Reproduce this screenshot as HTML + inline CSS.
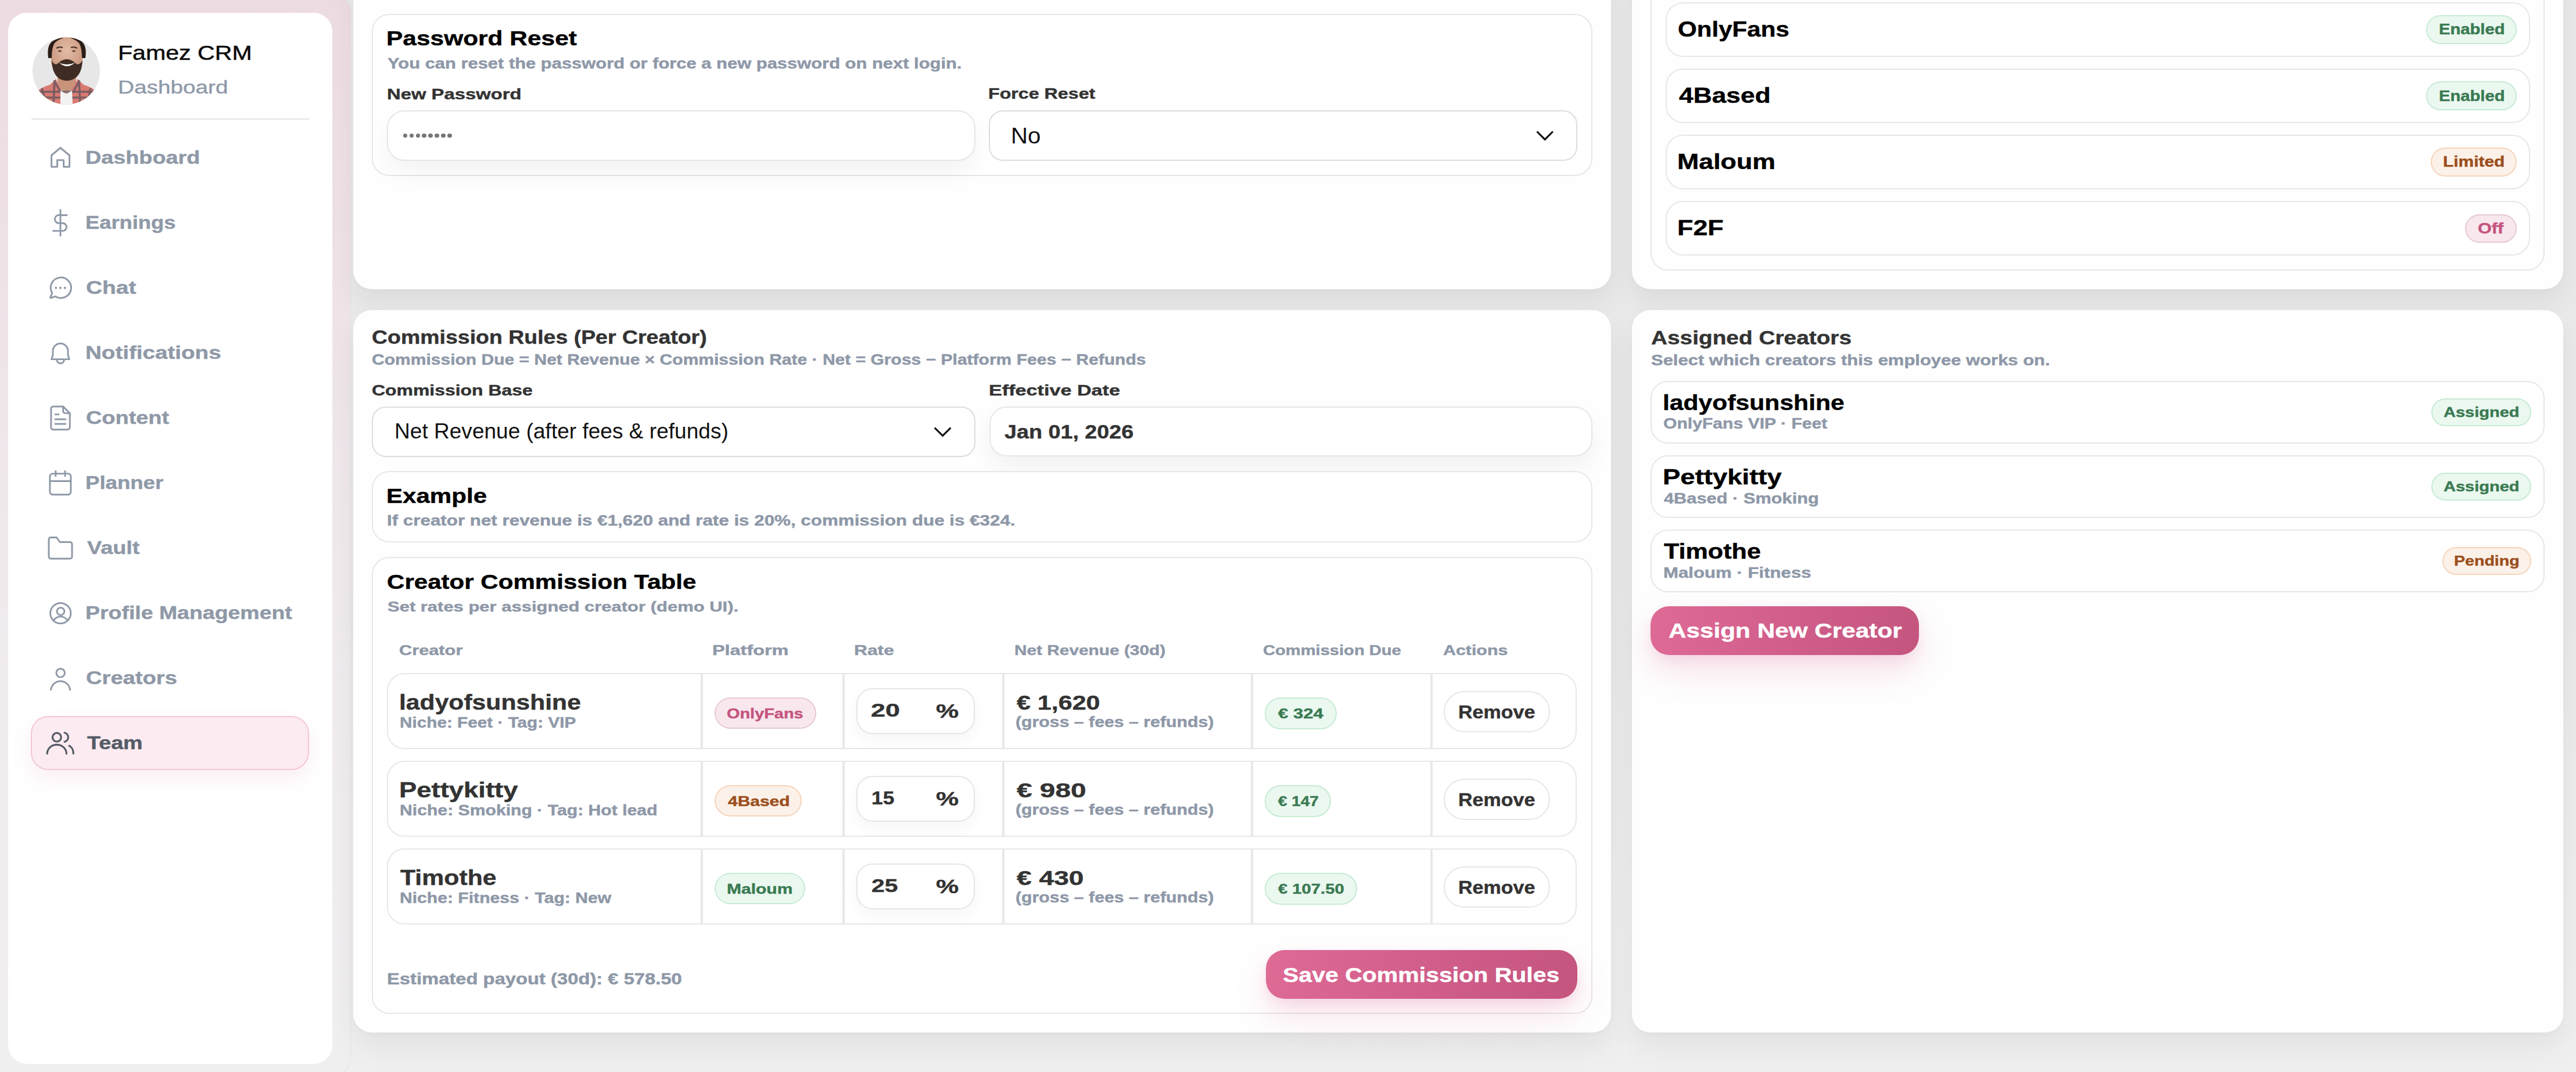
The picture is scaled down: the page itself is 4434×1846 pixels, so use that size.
<!DOCTYPE html>
<html><head><meta charset="utf-8"><title>Famez CRM</title>
<style>
html,body{margin:0;padding:0;width:4434px;height:1846px;overflow:hidden;background:#ebebeb;font-family:"Liberation Sans",sans-serif;}
</style></head><body>
<div style="position:absolute;left:0;top:0;width:4434px;height:1846px;overflow:hidden;background:linear-gradient(180deg,#e9e9e9 0%,#e9e9e9 55%,#efefef 100%);">
<div style="position:absolute;left:0;top:-12px;width:604px;height:1866px;box-sizing:border-box;border-right:1.5px solid #e3dfe1;border-bottom:1.5px solid #e3dfe1;border-radius:0 32px 32px 0;background:linear-gradient(180deg,#eddbe2 0%,#eee2e7 25%,#efe9ec 50%,#f0edef 75%,#f0eff0 100%);"></div>
<div style="position:absolute;left:14.0px;top:22.0px;width:558.0px;height:1810.0px;box-sizing:border-box;background:#fff;border-radius:32px;"></div>
<svg style="position:absolute;left:56px;top:63.6px" width="116" height="116" viewBox="0 0 116 116">
<defs><clipPath id="av"><circle cx="58" cy="58" r="58"/></clipPath>
<radialGradient id="sk" cx="0.5" cy="0.35" r="0.6"><stop offset="0" stop-color="#e4bca6"/><stop offset="1" stop-color="#c9957c"/></radialGradient></defs>
<g clip-path="url(#av)">
<rect width="116" height="116" fill="#e6e7e6"/>
<path d="M43 58 L43 86 L58 96 L75 86 L75 58 Z" fill="#c8937b"/>
<path d="M0 116 L4 98 Q10 88 30 82 L40 72 L50 92 L58 97 L66 92 L78 72 L88 82 Q108 88 112 98 L116 116 Z" fill="#d97a72"/>
<path d="M16 88 L24 116 M38 74 L36 116 M80 74 L82 116 M100 88 L94 116 M6 104 L112 104 M12 94 L106 94 M39 78 L49 96 M79 78 L69 96" stroke="#3c4a5a" stroke-width="3.6" opacity="0.6" fill="none"/>
<path d="M48 92 L58 98 L68 92 L69 116 L48 116 Z" fill="#f3f3f3"/>
<path d="M32 24 Q32 0 58 0 Q86 0 86 24 L86 42 Q84 62 58 68 Q34 62 32 42 Z" fill="url(#sk)"/>
<path d="M27 36 Q24 12 36 6 Q46 1 54 1 Q44 4 38 10 Q33 18 33 36 Z M91 36 Q94 14 84 7 Q74 1 64 1 Q74 4 80 10 Q85 18 85 36 Z" fill="#2b1d17"/>
<path d="M33 40 Q34 66 49 73 Q59 77 69 73 Q85 66 86 40 Q80 50 74 45 Q67 38 59 38 Q51 38 44 45 Q38 50 33 40 Z" fill="#3f2c24"/>
<path d="M46 44 Q59 56 73 44 Q66 47 59 47 Q52 47 46 44 Z" fill="#fbfbfa"/>
<path d="M41 19 Q46 16 52 18 M66 18 Q72 16 77 19" stroke="#4a3328" stroke-width="2.2" fill="none"/>
<ellipse cx="47" cy="24" rx="3" ry="1.4" fill="#5a4034"/><ellipse cx="71" cy="24" rx="3" ry="1.4" fill="#5a4034"/>

</g></svg>
<div style="position:absolute;left:203.14px;top:74.06px;font:400 34.78px/1 'Liberation Sans',sans-serif;color:#0a0a0a;white-space:nowrap;transform-origin:0 0;transform:scaleX(1.1825);-webkit-text-stroke:0.5px #0a0a0a;">Famez CRM</div>
<div style="position:absolute;left:203.07px;top:134.91px;font:400 31.88px/1 'Liberation Sans',sans-serif;color:#8e99a8;white-space:nowrap;transform-origin:0 0;transform:scaleX(1.2154);-webkit-text-stroke:0.4px #8e99a8;">Dashboard</div>
<div style="position:absolute;left:54.0px;top:204.0px;width:478.0px;height:2.0px;box-sizing:border-box;background:#e4e4e7;"></div>
<div style="position:absolute;left:53.3px;top:1233.0px;width:479.1px;height:93.0px;box-sizing:border-box;background:#fcebf0;border:2px solid #f3c7d5;border-radius:30px;box-shadow:0 14px 34px rgba(225,120,160,0.13);"></div>
<div style="position:absolute;left:147.11px;top:256.06px;font:700 31.59px/1 'Liberation Sans',sans-serif;color:#8f99a7;white-space:nowrap;transform-origin:0 0;transform:scaleX(1.1958);-webkit-text-stroke:0.45px #8f99a7;">Dashboard</div>
<div style="position:absolute;left:147.20px;top:368.01px;font:700 31.59px/1 'Liberation Sans',sans-serif;color:#8f99a7;white-space:nowrap;transform-origin:0 0;transform:scaleX(1.1505);-webkit-text-stroke:0.45px #8f99a7;">Earnings</div>
<div style="position:absolute;left:148.27px;top:479.96px;font:700 31.59px/1 'Liberation Sans',sans-serif;color:#8f99a7;white-space:nowrap;transform-origin:0 0;transform:scaleX(1.2303);-webkit-text-stroke:0.45px #8f99a7;">Chat</div>
<div style="position:absolute;left:147.06px;top:591.91px;font:700 31.59px/1 'Liberation Sans',sans-serif;color:#8f99a7;white-space:nowrap;transform-origin:0 0;transform:scaleX(1.2217);-webkit-text-stroke:0.45px #8f99a7;">Notifications</div>
<div style="position:absolute;left:148.30px;top:703.86px;font:700 31.59px/1 'Liberation Sans',sans-serif;color:#8f99a7;white-space:nowrap;transform-origin:0 0;transform:scaleX(1.2000);-webkit-text-stroke:0.45px #8f99a7;">Content</div>
<div style="position:absolute;left:147.18px;top:815.81px;font:700 31.59px/1 'Liberation Sans',sans-serif;color:#8f99a7;white-space:nowrap;transform-origin:0 0;transform:scaleX(1.1582);-webkit-text-stroke:0.45px #8f99a7;">Planner</div>
<div style="position:absolute;left:149.50px;top:927.76px;font:700 31.59px/1 'Liberation Sans',sans-serif;color:#8f99a7;white-space:nowrap;transform-origin:0 0;transform:scaleX(1.1982);-webkit-text-stroke:0.45px #8f99a7;">Vault</div>
<div style="position:absolute;left:147.13px;top:1039.71px;font:700 31.59px/1 'Liberation Sans',sans-serif;color:#8f99a7;white-space:nowrap;transform-origin:0 0;transform:scaleX(1.1858);-webkit-text-stroke:0.45px #8f99a7;">Profile Management</div>
<div style="position:absolute;left:148.29px;top:1151.66px;font:700 31.59px/1 'Liberation Sans',sans-serif;color:#8f99a7;white-space:nowrap;transform-origin:0 0;transform:scaleX(1.2080);-webkit-text-stroke:0.45px #8f99a7;">Creators</div>
<div style="position:absolute;left:149.50px;top:1263.61px;font:700 31.59px/1 'Liberation Sans',sans-serif;color:#545b66;white-space:nowrap;transform-origin:0 0;transform:scaleX(1.1926);-webkit-text-stroke:0.45px #545b66;">Team</div>
<svg style="position:absolute;left:0;top:0;overflow:visible" width="1" height="1">
<g fill="none" stroke="#8f99a7" stroke-width="2.95" stroke-linecap="round" stroke-linejoin="round">
<path d="M88.6 287.3 V267.5 L104 254.5 L119.6 267.5 V287.3 H109.6 V275.8 H98.6 V287.3 Z"/>
<path d="M115 370.5 H100.5 A6.9 6.9 0 0 0 100.5 384.2 H107.8 A6.7 6.7 0 0 1 107.8 397.6 H91.5 M104 361.5 V406"/>
<path d="M95.5 510.4 A17.6 17.6 0 1 0 89.8 504.6 L86.8 511.8 Q86.3 513.4 88 512.8 Z"/>
<path d="M88.6 618.6 H119.4 L117 611.5 V604.5 A13 13 0 0 0 91 604.5 V611.5 Z M97.8 619.5 A6.3 6.3 0 0 0 110.4 619.5"/>
<path d="M108.6 700 H91.5 A3.6 3.6 0 0 0 87.9 703.6 V736.2 A3.6 3.6 0 0 0 91.5 739.8 H116.6 A3.6 3.6 0 0 0 120.2 736.2 V711.6 Z M108.6 700 V708 A3.6 3.6 0 0 0 112.2 711.6 H120.2 M95 713.6 H101 M95 722 H113 M95 730 H113"/>
<rect x="85.9" y="815.6" width="36" height="36.2" rx="5"/>
<path d="M85.9 828.4 H121.9 M95.8 811.2 V819.8 M112 811.2 V819.8"/>
<path d="M84 929 A3.5 3.5 0 0 1 87.5 925.5 H97.5 L103 933.5 H120.5 A3.5 3.5 0 0 1 124 937 V958.5 A3.5 3.5 0 0 1 120.5 962 H87.5 A3.5 3.5 0 0 1 84 958.5 Z"/>
<circle cx="104.2" cy="1056" r="17.6"/>
<circle cx="104.4" cy="1052.8" r="6.4"/>
<path d="M92.2 1068.6 Q97 1061.6 104.3 1061.6 Q111.6 1061.6 116.4 1068.6"/>
<circle cx="104.2" cy="1158.8" r="7.3"/>
<path d="M87.6 1187.9 A16.6 16.8 0 0 1 120.6 1187.9"/>
</g>
<g fill="none" stroke="#545b66" stroke-width="3.2" stroke-linecap="round" stroke-linejoin="round">
<circle cx="97.8" cy="1269.6" r="7.4"/>
<path d="M81.2 1297.8 A16.6 15.4 0 0 1 114.4 1297.8 M111.2 1261.8 A8 8 0 0 1 111.2 1277.4 M119.2 1284.2 A11 13.8 0 0 1 126.2 1297.8"/>
</g>
<g fill="#8f99a7" stroke="none"><circle cx="96.2" cy="495.8" r="2"/><circle cx="104" cy="495.8" r="2"/><circle cx="111.8" cy="495.8" r="2"/></g>
</svg>
<div style="position:absolute;left:608.0px;top:-60.0px;width:2165.0px;height:558.0px;box-sizing:border-box;background:#fefefe;border-radius:32px;box-shadow:0 24px 48px rgba(0,0,0,0.055),0 4px 10px rgba(0,0,0,0.02);"></div>
<div style="position:absolute;left:2809.0px;top:-60.0px;width:1603.0px;height:558.0px;box-sizing:border-box;background:#fefefe;border-radius:32px;box-shadow:0 24px 48px rgba(0,0,0,0.055),0 4px 10px rgba(0,0,0,0.02);"></div>
<div style="position:absolute;left:608.0px;top:534.0px;width:2165.0px;height:1243.5px;box-sizing:border-box;background:#fefefe;border-radius:32px;box-shadow:0 24px 48px rgba(0,0,0,0.055),0 4px 10px rgba(0,0,0,0.02);"></div>
<div style="position:absolute;left:2809.0px;top:534.0px;width:1603.0px;height:1243.5px;box-sizing:border-box;background:#fefefe;border-radius:32px;box-shadow:0 24px 48px rgba(0,0,0,0.055),0 4px 10px rgba(0,0,0,0.02);"></div>
<div style="position:absolute;left:640.0px;top:24.0px;width:2101.0px;height:279.0px;box-sizing:border-box;border:2px solid #e7e7e9;border-radius:30px;background:#fff;"></div>
<div style="position:absolute;left:664.56px;top:49.06px;font:700 34.78px/1 'Liberation Sans',sans-serif;color:#000;white-space:nowrap;transform-origin:0 0;transform:scaleX(1.2209);-webkit-text-stroke:0.45px #000;">Password Reset</div>
<div style="position:absolute;left:667.00px;top:97.46px;font:700 25.80px/1 'Liberation Sans',sans-serif;color:#8e98a8;white-space:nowrap;transform-origin:0 0;transform:scaleX(1.1978);-webkit-text-stroke:0.45px #8e98a8;">You can reset the password or force a new password on next login.</div>
<div style="position:absolute;left:665.76px;top:149.17px;font:700 26.38px/1 'Liberation Sans',sans-serif;color:#333333;white-space:nowrap;transform-origin:0 0;transform:scaleX(1.2442);-webkit-text-stroke:0.45px #333333;">New Password</div>
<div style="position:absolute;left:1701.18px;top:148.17px;font:700 26.38px/1 'Liberation Sans',sans-serif;color:#333333;white-space:nowrap;transform-origin:0 0;transform:scaleX(1.2203);-webkit-text-stroke:0.45px #333333;">Force Reset</div>
<div style="position:absolute;left:665.5px;top:189.7px;width:1013.2px;height:87.5px;box-sizing:border-box;background:#fff;border:2px solid #e6e6e8;border-radius:30px;box-shadow:0 20px 44px rgba(0,0,0,0.05);"></div>
<div style="position:absolute;left:693.7px;top:229.5px;width:7.8px;height:7.8px;box-sizing:border-box;background:#767676;border-radius:50%;"></div>
<div style="position:absolute;left:704.6px;top:229.5px;width:7.8px;height:7.8px;box-sizing:border-box;background:#767676;border-radius:50%;"></div>
<div style="position:absolute;left:715.5px;top:229.5px;width:7.8px;height:7.8px;box-sizing:border-box;background:#767676;border-radius:50%;"></div>
<div style="position:absolute;left:726.4px;top:229.5px;width:7.8px;height:7.8px;box-sizing:border-box;background:#767676;border-radius:50%;"></div>
<div style="position:absolute;left:737.3px;top:229.5px;width:7.8px;height:7.8px;box-sizing:border-box;background:#767676;border-radius:50%;"></div>
<div style="position:absolute;left:748.2px;top:229.5px;width:7.8px;height:7.8px;box-sizing:border-box;background:#767676;border-radius:50%;"></div>
<div style="position:absolute;left:759.1px;top:229.5px;width:7.8px;height:7.8px;box-sizing:border-box;background:#767676;border-radius:50%;"></div>
<div style="position:absolute;left:770.0px;top:229.5px;width:7.8px;height:7.8px;box-sizing:border-box;background:#767676;border-radius:50%;"></div>
<div style="position:absolute;left:1702.4px;top:189.6px;width:1013.1px;height:87.7px;box-sizing:border-box;background:#fff;border:2px solid #dcdde3;border-radius:24px;"></div>
<div style="position:absolute;left:1739.88px;top:215.14px;font:400 38.70px/1 'Liberation Sans',sans-serif;color:#111;white-space:nowrap;transform-origin:0 0;transform:scaleX(1.0392);">No</div>
<svg style="position:absolute;left:0;top:0;overflow:visible" width="1" height="1"><path d="M2645.5 226.5 L2659.2 240.2 L2672.9 226.5" fill="none" stroke="#111" stroke-width="3.1"/></svg>
<div style="position:absolute;left:2840.9px;top:-41.0px;width:1539.5px;height:507.0px;box-sizing:border-box;border:2px solid #e7e7e9;border-radius:30px;"></div>
<div style="position:absolute;left:2867.0px;top:3.8px;width:1487.5px;height:94.0px;box-sizing:border-box;border:2px solid #e7e7e9;border-radius:30px;background:#fff;"></div>
<div style="position:absolute;left:2888.33px;top:33.15px;font:700 36.09px/1 'Liberation Sans',sans-serif;color:#000;white-space:nowrap;transform-origin:0 0;transform:scaleX(1.1674);-webkit-text-stroke:0.45px #000;">OnlyFans</div>
<div style="position:absolute;left:4176.0px;top:26.3px;width:155.8px;height:49.4px;box-sizing:border-box;background:#ebf8f0;border:2px solid #c6ebd3;border-radius:999px;"></div>
<div style="position:absolute;left:4197.64px;top:38.45px;font:700 25.22px/1 'Liberation Sans',sans-serif;color:#3a7a52;white-space:nowrap;transform-origin:0 0;transform:scaleX(1.1569);-webkit-text-stroke:0.45px #3a7a52;">Enabled</div>
<div style="position:absolute;left:2867.0px;top:117.9px;width:1487.5px;height:94.0px;box-sizing:border-box;border:2px solid #e7e7e9;border-radius:30px;background:#fff;"></div>
<div style="position:absolute;left:2889.50px;top:147.25px;font:700 36.09px/1 'Liberation Sans',sans-serif;color:#000;white-space:nowrap;transform-origin:0 0;transform:scaleX(1.2287);-webkit-text-stroke:0.45px #000;">4Based</div>
<div style="position:absolute;left:4176.0px;top:140.4px;width:155.8px;height:49.4px;box-sizing:border-box;background:#ebf8f0;border:2px solid #c6ebd3;border-radius:999px;"></div>
<div style="position:absolute;left:4197.64px;top:152.55px;font:700 25.22px/1 'Liberation Sans',sans-serif;color:#3a7a52;white-space:nowrap;transform-origin:0 0;transform:scaleX(1.1569);-webkit-text-stroke:0.45px #3a7a52;">Enabled</div>
<div style="position:absolute;left:2867.0px;top:231.8px;width:1487.5px;height:94.0px;box-sizing:border-box;border:2px solid #e7e7e9;border-radius:30px;background:#fff;"></div>
<div style="position:absolute;left:2887.02px;top:261.15px;font:700 36.09px/1 'Liberation Sans',sans-serif;color:#000;white-space:nowrap;transform-origin:0 0;transform:scaleX(1.2404);-webkit-text-stroke:0.45px #000;">Maloum</div>
<div style="position:absolute;left:4183.5px;top:254.3px;width:148.3px;height:49.4px;box-sizing:border-box;background:#fcf1e8;border:2px solid #f6d4ba;border-radius:999px;"></div>
<div style="position:absolute;left:4204.81px;top:266.45px;font:700 25.22px/1 'Liberation Sans',sans-serif;color:#9b4f1e;white-space:nowrap;transform-origin:0 0;transform:scaleX(1.1860);-webkit-text-stroke:0.45px #9b4f1e;">Limited</div>
<div style="position:absolute;left:2867.0px;top:346.0px;width:1487.5px;height:94.0px;box-sizing:border-box;border:2px solid #e7e7e9;border-radius:30px;background:#fff;"></div>
<div style="position:absolute;left:2887.01px;top:375.35px;font:700 36.09px/1 'Liberation Sans',sans-serif;color:#000;white-space:nowrap;transform-origin:0 0;transform:scaleX(1.2438);-webkit-text-stroke:0.45px #000;">F2F</div>
<div style="position:absolute;left:4243.3px;top:368.5px;width:88.5px;height:49.4px;box-sizing:border-box;background:#f9e7ee;border:2px solid #e7c8d5;border-radius:999px;"></div>
<div style="position:absolute;left:4264.59px;top:380.65px;font:700 25.22px/1 'Liberation Sans',sans-serif;color:#c4557f;white-space:nowrap;transform-origin:0 0;transform:scaleX(1.2134);-webkit-text-stroke:0.45px #c4557f;">Off</div>
<div style="position:absolute;left:640.18px;top:564.38px;font:700 33.33px/1 'Liberation Sans',sans-serif;color:#333333;white-space:nowrap;transform-origin:0 0;transform:scaleX(1.1241);-webkit-text-stroke:0.45px #333333;">Commission Rules (Per Creator)</div>
<div style="position:absolute;left:640.13px;top:607.29px;font:700 25.65px/1 'Liberation Sans',sans-serif;color:#8e98a8;white-space:nowrap;transform-origin:0 0;transform:scaleX(1.1711);-webkit-text-stroke:0.45px #8e98a8;">Commission Due = Net Revenue × Commission Rate · Net = Gross − Platform Fees − Refunds</div>
<div style="position:absolute;left:640.08px;top:658.92px;font:700 26.09px/1 'Liberation Sans',sans-serif;color:#333333;white-space:nowrap;transform-origin:0 0;transform:scaleX(1.2245);-webkit-text-stroke:0.45px #333333;">Commission Base</div>
<div style="position:absolute;left:1701.59px;top:659.02px;font:700 26.09px/1 'Liberation Sans',sans-serif;color:#333333;white-space:nowrap;transform-origin:0 0;transform:scaleX(1.3102);-webkit-text-stroke:0.45px #333333;">Effective Date</div>
<div style="position:absolute;left:639.6px;top:699.5px;width:1039.4px;height:87.6px;box-sizing:border-box;background:#fff;border:2px solid #dcdde3;border-radius:24px;"></div>
<div style="position:absolute;left:678.78px;top:725.14px;font:400 36.81px/1 'Liberation Sans',sans-serif;color:#111;white-space:nowrap;transform-origin:0 0;transform:scaleX(1.0073);">Net Revenue (after fees &amp; refunds)</div>
<svg style="position:absolute;left:0;top:0;overflow:visible" width="1" height="1"><path d="M1608.8 736.6 L1622.6 750.4 L1636.4 736.6" fill="none" stroke="#111" stroke-width="3.1"/></svg>
<div style="position:absolute;left:1703.4px;top:700.3px;width:1037.2px;height:86.2px;box-sizing:border-box;background:#fff;border:2px solid #e6e6e8;border-radius:30px;box-shadow:0 20px 44px rgba(0,0,0,0.05);"></div>
<div style="position:absolute;left:1729.00px;top:727.97px;font:700 32.75px/1 'Liberation Sans',sans-serif;color:#333333;white-space:nowrap;transform-origin:0 0;transform:scaleX(1.1515);-webkit-text-stroke:0.45px #333333;">Jan 01, 2026</div>
<div style="position:absolute;left:640.0px;top:810.6px;width:2100.6px;height:123.8px;box-sizing:border-box;border:2px solid #e7e7e9;border-radius:30px;background:#fff;"></div>
<div style="position:absolute;left:664.51px;top:836.19px;font:700 35.22px/1 'Liberation Sans',sans-serif;color:#000;white-space:nowrap;transform-origin:0 0;transform:scaleX(1.1948);-webkit-text-stroke:0.45px #000;">Example</div>
<div style="position:absolute;left:665.68px;top:884.29px;font:700 25.65px/1 'Liberation Sans',sans-serif;color:#8e98a8;white-space:nowrap;transform-origin:0 0;transform:scaleX(1.2221);-webkit-text-stroke:0.45px #8e98a8;">If creator net revenue is €1,620 and rate is 20%, commission due is €324.</div>
<div style="position:absolute;left:640.0px;top:959.1px;width:2100.6px;height:786.8px;box-sizing:border-box;border:2px solid #e7e7e9;border-radius:30px;background:#fff;"></div>
<div style="position:absolute;left:665.73px;top:983.58px;font:700 35.94px/1 'Liberation Sans',sans-serif;color:#000;white-space:nowrap;transform-origin:0 0;transform:scaleX(1.1714);-webkit-text-stroke:0.45px #000;">Creator Commission Table</div>
<div style="position:absolute;left:666.90px;top:1033.14px;font:700 24.64px/1 'Liberation Sans',sans-serif;color:#8e98a8;white-space:nowrap;transform-origin:0 0;transform:scaleX(1.2576);-webkit-text-stroke:0.45px #8e98a8;">Set rates per assigned creator (demo UI).</div>
<div style="position:absolute;left:686.80px;top:1108.21px;font:700 24.20px/1 'Liberation Sans',sans-serif;color:#8e98a8;white-space:nowrap;transform-origin:0 0;transform:scaleX(1.2712);-webkit-text-stroke:0.45px #8e98a8;">Creator</div>
<div style="position:absolute;left:1226.26px;top:1108.21px;font:700 24.20px/1 'Liberation Sans',sans-serif;color:#8e98a8;white-space:nowrap;transform-origin:0 0;transform:scaleX(1.3389);-webkit-text-stroke:0.45px #8e98a8;">Platform</div>
<div style="position:absolute;left:1470.29px;top:1108.21px;font:700 24.20px/1 'Liberation Sans',sans-serif;color:#8e98a8;white-space:nowrap;transform-origin:0 0;transform:scaleX(1.3124);-webkit-text-stroke:0.45px #8e98a8;">Rate</div>
<div style="position:absolute;left:1745.77px;top:1108.21px;font:700 24.20px/1 'Liberation Sans',sans-serif;color:#8e98a8;white-space:nowrap;transform-origin:0 0;transform:scaleX(1.2327);-webkit-text-stroke:0.45px #8e98a8;">Net Revenue (30d)</div>
<div style="position:absolute;left:2174.30px;top:1108.21px;font:700 24.20px/1 'Liberation Sans',sans-serif;color:#8e98a8;white-space:nowrap;transform-origin:0 0;transform:scaleX(1.2034);-webkit-text-stroke:0.45px #8e98a8;">Commission Due</div>
<div style="position:absolute;left:2483.60px;top:1108.21px;font:700 24.20px/1 'Liberation Sans',sans-serif;color:#8e98a8;white-space:nowrap;transform-origin:0 0;transform:scaleX(1.2556);-webkit-text-stroke:0.45px #8e98a8;">Actions</div>
<div style="position:absolute;left:665.7px;top:1159.0px;width:2048.8px;height:131.0px;box-sizing:border-box;background:#fff;border:2px solid #e7e7e9;border-radius:30px;"></div>
<div style="position:absolute;left:1206.0px;top:1161.0px;width:4.0px;height:127.0px;box-sizing:border-box;background:#e8e8ea;"></div>
<div style="position:absolute;left:1450.0px;top:1161.0px;width:4.0px;height:127.0px;box-sizing:border-box;background:#e8e8ea;"></div>
<div style="position:absolute;left:1725.0px;top:1161.0px;width:4.0px;height:127.0px;box-sizing:border-box;background:#e8e8ea;"></div>
<div style="position:absolute;left:2153.0px;top:1161.0px;width:4.0px;height:127.0px;box-sizing:border-box;background:#e8e8ea;"></div>
<div style="position:absolute;left:2462.0px;top:1161.0px;width:4.0px;height:127.0px;box-sizing:border-box;background:#e8e8ea;"></div>
<div style="position:absolute;left:686.88px;top:1191.54px;font:700 36.81px/1 'Liberation Sans',sans-serif;color:#333333;white-space:nowrap;transform-origin:0 0;transform:scaleX(1.1592);-webkit-text-stroke:0.45px #333333;">ladyofsunshine</div>
<div style="position:absolute;left:688.01px;top:1231.88px;font:700 25.07px/1 'Liberation Sans',sans-serif;color:#8e98a8;white-space:nowrap;transform-origin:0 0;transform:scaleX(1.1860);-webkit-text-stroke:0.45px #8e98a8;">Niche: Feet · Tag: VIP</div>
<div style="position:absolute;left:1230.0px;top:1201.3px;width:174.5px;height:54.2px;box-sizing:border-box;background:#f9e7ee;border:2px solid #e7c8d5;border-radius:999px;"></div>
<div style="position:absolute;left:1251.31px;top:1216.99px;font:700 24.35px/1 'Liberation Sans',sans-serif;color:#c4557f;white-space:nowrap;transform-origin:0 0;transform:scaleX(1.1866);-webkit-text-stroke:0.45px #c4557f;">OnlyFans</div>
<div style="position:absolute;left:1473.7px;top:1184.7px;width:203.9px;height:78.9px;box-sizing:border-box;background:#fff;border:2px solid #e6e6e8;border-radius:28px;box-shadow:0 10px 26px rgba(0,0,0,0.04);"></div>
<div style="position:absolute;left:1499.44px;top:1209.37px;font:700 30.87px/1 'Liberation Sans',sans-serif;color:#333333;white-space:nowrap;transform-origin:0 0;transform:scaleX(1.4551);-webkit-text-stroke:0.45px #333333;">20</div>
<div style="position:absolute;left:1610.80px;top:1208.60px;font:700 32.61px/1 'Liberation Sans',sans-serif;color:#333333;white-space:nowrap;transform-origin:0 0;transform:scaleX(1.3517);-webkit-text-stroke:0.45px #333333;">%</div>
<div style="position:absolute;left:1749.60px;top:1193.42px;font:700 34.35px/1 'Liberation Sans',sans-serif;color:#333333;white-space:nowrap;transform-origin:0 0;transform:scaleX(1.2526);-webkit-text-stroke:0.45px #333333;">€ 1,620</div>
<div style="position:absolute;left:1748.41px;top:1230.53px;font:700 25.36px/1 'Liberation Sans',sans-serif;color:#8e98a8;white-space:nowrap;transform-origin:0 0;transform:scaleX(1.1931);-webkit-text-stroke:0.45px #8e98a8;">(gross – fees – refunds)</div>
<div style="position:absolute;left:2177.2px;top:1201.4px;width:123.5px;height:54.3px;box-sizing:border-box;background:#ebf8f0;border:2px solid #c6ebd3;border-radius:999px;"></div>
<div style="position:absolute;left:2200.00px;top:1216.64px;font:700 24.64px/1 'Liberation Sans',sans-serif;color:#3a7a52;white-space:nowrap;transform-origin:0 0;transform:scaleX(1.2644);-webkit-text-stroke:0.45px #3a7a52;">€ 324</div>
<div style="position:absolute;left:2485.2px;top:1189.6px;width:183.3px;height:71.0px;box-sizing:border-box;background:#fff;border:2px solid #e6e6e8;border-radius:999px;"></div>
<div style="position:absolute;left:2510.06px;top:1211.44px;font:700 30.43px/1 'Liberation Sans',sans-serif;color:#333333;white-space:nowrap;transform-origin:0 0;transform:scaleX(1.1183);-webkit-text-stroke:0.45px #333333;">Remove</div>
<div style="position:absolute;left:665.7px;top:1310.0px;width:2048.8px;height:131.0px;box-sizing:border-box;background:#fff;border:2px solid #e7e7e9;border-radius:30px;"></div>
<div style="position:absolute;left:1206.0px;top:1312.0px;width:4.0px;height:127.0px;box-sizing:border-box;background:#e8e8ea;"></div>
<div style="position:absolute;left:1450.0px;top:1312.0px;width:4.0px;height:127.0px;box-sizing:border-box;background:#e8e8ea;"></div>
<div style="position:absolute;left:1725.0px;top:1312.0px;width:4.0px;height:127.0px;box-sizing:border-box;background:#e8e8ea;"></div>
<div style="position:absolute;left:2153.0px;top:1312.0px;width:4.0px;height:127.0px;box-sizing:border-box;background:#e8e8ea;"></div>
<div style="position:absolute;left:2462.0px;top:1312.0px;width:4.0px;height:127.0px;box-sizing:border-box;background:#e8e8ea;"></div>
<div style="position:absolute;left:686.73px;top:1342.54px;font:700 36.81px/1 'Liberation Sans',sans-serif;color:#333333;white-space:nowrap;transform-origin:0 0;transform:scaleX(1.2340);-webkit-text-stroke:0.45px #333333;">Pettykitty</div>
<div style="position:absolute;left:688.00px;top:1382.88px;font:700 25.07px/1 'Liberation Sans',sans-serif;color:#8e98a8;white-space:nowrap;transform-origin:0 0;transform:scaleX(1.2036);-webkit-text-stroke:0.45px #8e98a8;">Niche: Smoking · Tag: Hot lead</div>
<div style="position:absolute;left:1230.0px;top:1352.3px;width:150.2px;height:54.2px;box-sizing:border-box;background:#fcf1e8;border:2px solid #f6d4ba;border-radius:999px;"></div>
<div style="position:absolute;left:1252.50px;top:1367.99px;font:700 24.35px/1 'Liberation Sans',sans-serif;color:#9b4f1e;white-space:nowrap;transform-origin:0 0;transform:scaleX(1.2305);-webkit-text-stroke:0.45px #9b4f1e;">4Based</div>
<div style="position:absolute;left:1473.7px;top:1335.7px;width:203.9px;height:78.9px;box-sizing:border-box;background:#fff;border:2px solid #e6e6e8;border-radius:28px;box-shadow:0 10px 26px rgba(0,0,0,0.04);"></div>
<div style="position:absolute;left:1499.75px;top:1360.37px;font:700 30.87px/1 'Liberation Sans',sans-serif;color:#333333;white-space:nowrap;transform-origin:0 0;transform:scaleX(1.1459);-webkit-text-stroke:0.45px #333333;">15</div>
<div style="position:absolute;left:1610.80px;top:1359.60px;font:700 32.61px/1 'Liberation Sans',sans-serif;color:#333333;white-space:nowrap;transform-origin:0 0;transform:scaleX(1.3517);-webkit-text-stroke:0.45px #333333;">%</div>
<div style="position:absolute;left:1749.60px;top:1344.42px;font:700 34.35px/1 'Liberation Sans',sans-serif;color:#333333;white-space:nowrap;transform-origin:0 0;transform:scaleX(1.3913);-webkit-text-stroke:0.45px #333333;">€ 980</div>
<div style="position:absolute;left:1748.41px;top:1381.53px;font:700 25.36px/1 'Liberation Sans',sans-serif;color:#8e98a8;white-space:nowrap;transform-origin:0 0;transform:scaleX(1.1931);-webkit-text-stroke:0.45px #8e98a8;">(gross – fees – refunds)</div>
<div style="position:absolute;left:2177.2px;top:1352.4px;width:114.2px;height:54.3px;box-sizing:border-box;background:#ebf8f0;border:2px solid #c6ebd3;border-radius:999px;"></div>
<div style="position:absolute;left:2200.00px;top:1367.64px;font:700 24.64px/1 'Liberation Sans',sans-serif;color:#3a7a52;white-space:nowrap;transform-origin:0 0;transform:scaleX(1.1325);-webkit-text-stroke:0.45px #3a7a52;">€ 147</div>
<div style="position:absolute;left:2485.2px;top:1340.6px;width:183.3px;height:71.0px;box-sizing:border-box;background:#fff;border:2px solid #e6e6e8;border-radius:999px;"></div>
<div style="position:absolute;left:2510.06px;top:1362.44px;font:700 30.43px/1 'Liberation Sans',sans-serif;color:#333333;white-space:nowrap;transform-origin:0 0;transform:scaleX(1.1183);-webkit-text-stroke:0.45px #333333;">Remove</div>
<div style="position:absolute;left:665.7px;top:1461.0px;width:2048.8px;height:131.0px;box-sizing:border-box;background:#fff;border:2px solid #e7e7e9;border-radius:30px;"></div>
<div style="position:absolute;left:1206.0px;top:1463.0px;width:4.0px;height:127.0px;box-sizing:border-box;background:#e8e8ea;"></div>
<div style="position:absolute;left:1450.0px;top:1463.0px;width:4.0px;height:127.0px;box-sizing:border-box;background:#e8e8ea;"></div>
<div style="position:absolute;left:1725.0px;top:1463.0px;width:4.0px;height:127.0px;box-sizing:border-box;background:#e8e8ea;"></div>
<div style="position:absolute;left:2153.0px;top:1463.0px;width:4.0px;height:127.0px;box-sizing:border-box;background:#e8e8ea;"></div>
<div style="position:absolute;left:2462.0px;top:1463.0px;width:4.0px;height:127.0px;box-sizing:border-box;background:#e8e8ea;"></div>
<div style="position:absolute;left:689.20px;top:1493.54px;font:700 36.81px/1 'Liberation Sans',sans-serif;color:#333333;white-space:nowrap;transform-origin:0 0;transform:scaleX(1.1623);-webkit-text-stroke:0.45px #333333;">Timothe</div>
<div style="position:absolute;left:688.00px;top:1533.88px;font:700 25.07px/1 'Liberation Sans',sans-serif;color:#8e98a8;white-space:nowrap;transform-origin:0 0;transform:scaleX(1.2012);-webkit-text-stroke:0.45px #8e98a8;">Niche: Fitness · Tag: New</div>
<div style="position:absolute;left:1230.0px;top:1503.3px;width:156.0px;height:54.2px;box-sizing:border-box;background:#ebf8f0;border:2px solid #c6ebd3;border-radius:999px;"></div>
<div style="position:absolute;left:1251.27px;top:1518.99px;font:700 24.35px/1 'Liberation Sans',sans-serif;color:#3a7a52;white-space:nowrap;transform-origin:0 0;transform:scaleX(1.2323);-webkit-text-stroke:0.45px #3a7a52;">Maloum</div>
<div style="position:absolute;left:1473.7px;top:1486.7px;width:203.9px;height:78.9px;box-sizing:border-box;background:#fff;border:2px solid #e6e6e8;border-radius:28px;box-shadow:0 10px 26px rgba(0,0,0,0.04);"></div>
<div style="position:absolute;left:1499.57px;top:1511.37px;font:700 30.87px/1 'Liberation Sans',sans-serif;color:#333333;white-space:nowrap;transform-origin:0 0;transform:scaleX(1.3268);-webkit-text-stroke:0.45px #333333;">25</div>
<div style="position:absolute;left:1610.80px;top:1510.60px;font:700 32.61px/1 'Liberation Sans',sans-serif;color:#333333;white-space:nowrap;transform-origin:0 0;transform:scaleX(1.3517);-webkit-text-stroke:0.45px #333333;">%</div>
<div style="position:absolute;left:1749.60px;top:1495.42px;font:700 34.35px/1 'Liberation Sans',sans-serif;color:#333333;white-space:nowrap;transform-origin:0 0;transform:scaleX(1.3441);-webkit-text-stroke:0.45px #333333;">€ 430</div>
<div style="position:absolute;left:1748.41px;top:1532.53px;font:700 25.36px/1 'Liberation Sans',sans-serif;color:#8e98a8;white-space:nowrap;transform-origin:0 0;transform:scaleX(1.1931);-webkit-text-stroke:0.45px #8e98a8;">(gross – fees – refunds)</div>
<div style="position:absolute;left:2177.2px;top:1503.4px;width:158.6px;height:54.3px;box-sizing:border-box;background:#ebf8f0;border:2px solid #c6ebd3;border-radius:999px;"></div>
<div style="position:absolute;left:2200.00px;top:1518.64px;font:700 24.64px/1 'Liberation Sans',sans-serif;color:#3a7a52;white-space:nowrap;transform-origin:0 0;transform:scaleX(1.1854);-webkit-text-stroke:0.45px #3a7a52;">€ 107.50</div>
<div style="position:absolute;left:2485.2px;top:1491.6px;width:183.3px;height:71.0px;box-sizing:border-box;background:#fff;border:2px solid #e6e6e8;border-radius:999px;"></div>
<div style="position:absolute;left:2510.06px;top:1513.44px;font:700 30.43px/1 'Liberation Sans',sans-serif;color:#333333;white-space:nowrap;transform-origin:0 0;transform:scaleX(1.1183);-webkit-text-stroke:0.45px #333333;">Remove</div>
<div style="position:absolute;left:665.58px;top:1672.68px;font:700 26.96px/1 'Liberation Sans',sans-serif;color:#8e98a8;white-space:nowrap;transform-origin:0 0;transform:scaleX(1.2151);-webkit-text-stroke:0.45px #8e98a8;">Estimated payout (30d): € 578.50</div>
<div style="position:absolute;left:2179.3px;top:1636.0px;width:535.4px;height:83.8px;box-sizing:border-box;background:linear-gradient(100deg,#de6a96 0%,#d35f8c 45%,#c4557f 100%);border-radius:32px;box-shadow:0 26px 56px rgba(220,100,150,0.20),0 8px 18px rgba(210,90,140,0.10);"></div>
<div style="position:absolute;left:2208.43px;top:1660.81px;font:700 35.07px/1 'Liberation Sans',sans-serif;color:#fff;white-space:nowrap;transform-origin:0 0;transform:scaleX(1.1697);-webkit-text-stroke:0.45px #fff;">Save Commission Rules</div>
<div style="position:absolute;left:2841.50px;top:564.58px;font:700 33.33px/1 'Liberation Sans',sans-serif;color:#333333;white-space:nowrap;transform-origin:0 0;transform:scaleX(1.1643);-webkit-text-stroke:0.45px #333333;">Assigned Creators</div>
<div style="position:absolute;left:2841.50px;top:607.66px;font:700 25.80px/1 'Liberation Sans',sans-serif;color:#8e98a8;white-space:nowrap;transform-origin:0 0;transform:scaleX(1.2003);-webkit-text-stroke:0.45px #8e98a8;">Select which creators this employee works on.</div>
<div style="position:absolute;left:2840.5px;top:655.7px;width:1539.5px;height:108.5px;box-sizing:border-box;border:2px solid #e7e7e9;border-radius:30px;background:#fff;"></div>
<div style="position:absolute;left:2861.67px;top:675.66px;font:700 36.67px/1 'Liberation Sans',sans-serif;color:#000;white-space:nowrap;transform-origin:0 0;transform:scaleX(1.1634);-webkit-text-stroke:0.45px #000;">ladyofsunshine</div>
<div style="position:absolute;left:2862.83px;top:717.46px;font:700 25.80px/1 'Liberation Sans',sans-serif;color:#8e98a8;white-space:nowrap;transform-origin:0 0;transform:scaleX(1.1677);-webkit-text-stroke:0.45px #8e98a8;">OnlyFans VIP · Feet</div>
<div style="position:absolute;left:4184.7px;top:685.5px;width:172.8px;height:48.9px;box-sizing:border-box;background:#ebf8f0;border:2px solid #c6ebd3;border-radius:999px;"></div>
<div style="position:absolute;left:4206.30px;top:698.39px;font:700 24.35px/1 'Liberation Sans',sans-serif;color:#3a7a52;white-space:nowrap;transform-origin:0 0;transform:scaleX(1.1913);-webkit-text-stroke:0.45px #3a7a52;">Assigned</div>
<div style="position:absolute;left:2840.5px;top:783.8px;width:1539.5px;height:108.5px;box-sizing:border-box;border:2px solid #e7e7e9;border-radius:30px;background:#fff;"></div>
<div style="position:absolute;left:2861.52px;top:803.76px;font:700 36.67px/1 'Liberation Sans',sans-serif;color:#000;white-space:nowrap;transform-origin:0 0;transform:scaleX(1.2407);-webkit-text-stroke:0.45px #000;">Pettykitty</div>
<div style="position:absolute;left:2864.00px;top:845.56px;font:700 25.80px/1 'Liberation Sans',sans-serif;color:#8e98a8;white-space:nowrap;transform-origin:0 0;transform:scaleX(1.1935);-webkit-text-stroke:0.45px #8e98a8;">4Based · Smoking</div>
<div style="position:absolute;left:4184.7px;top:813.6px;width:172.8px;height:48.9px;box-sizing:border-box;background:#ebf8f0;border:2px solid #c6ebd3;border-radius:999px;"></div>
<div style="position:absolute;left:4206.30px;top:826.49px;font:700 24.35px/1 'Liberation Sans',sans-serif;color:#3a7a52;white-space:nowrap;transform-origin:0 0;transform:scaleX(1.1913);-webkit-text-stroke:0.45px #3a7a52;">Assigned</div>
<div style="position:absolute;left:2840.5px;top:911.8px;width:1539.5px;height:108.5px;box-sizing:border-box;border:2px solid #e7e7e9;border-radius:30px;background:#fff;"></div>
<div style="position:absolute;left:2864.00px;top:931.76px;font:700 36.67px/1 'Liberation Sans',sans-serif;color:#000;white-space:nowrap;transform-origin:0 0;transform:scaleX(1.1760);-webkit-text-stroke:0.45px #000;">Timothe</div>
<div style="position:absolute;left:2862.79px;top:973.56px;font:700 25.80px/1 'Liberation Sans',sans-serif;color:#8e98a8;white-space:nowrap;transform-origin:0 0;transform:scaleX(1.2085);-webkit-text-stroke:0.45px #8e98a8;">Maloum · Fitness</div>
<div style="position:absolute;left:4203.7px;top:941.6px;width:153.8px;height:48.9px;box-sizing:border-box;background:#fcf1e8;border:2px solid #f6d4ba;border-radius:999px;"></div>
<div style="position:absolute;left:4224.13px;top:954.49px;font:700 24.35px/1 'Liberation Sans',sans-serif;color:#9b4f1e;white-space:nowrap;transform-origin:0 0;transform:scaleX(1.1737);-webkit-text-stroke:0.45px #9b4f1e;">Pending</div>
<div style="position:absolute;left:2841.2px;top:1043.8px;width:462.2px;height:84.2px;box-sizing:border-box;background:linear-gradient(100deg,#de6a96 0%,#d35f8c 45%,#c4557f 100%);border-radius:32px;box-shadow:0 26px 56px rgba(220,100,150,0.20),0 8px 18px rgba(210,90,140,0.10);"></div>
<div style="position:absolute;left:2871.50px;top:1068.38px;font:700 35.94px/1 'Liberation Sans',sans-serif;color:#fff;white-space:nowrap;transform-origin:0 0;transform:scaleX(1.1767);-webkit-text-stroke:0.45px #fff;">Assign New Creator</div>
</div>
</body></html>
